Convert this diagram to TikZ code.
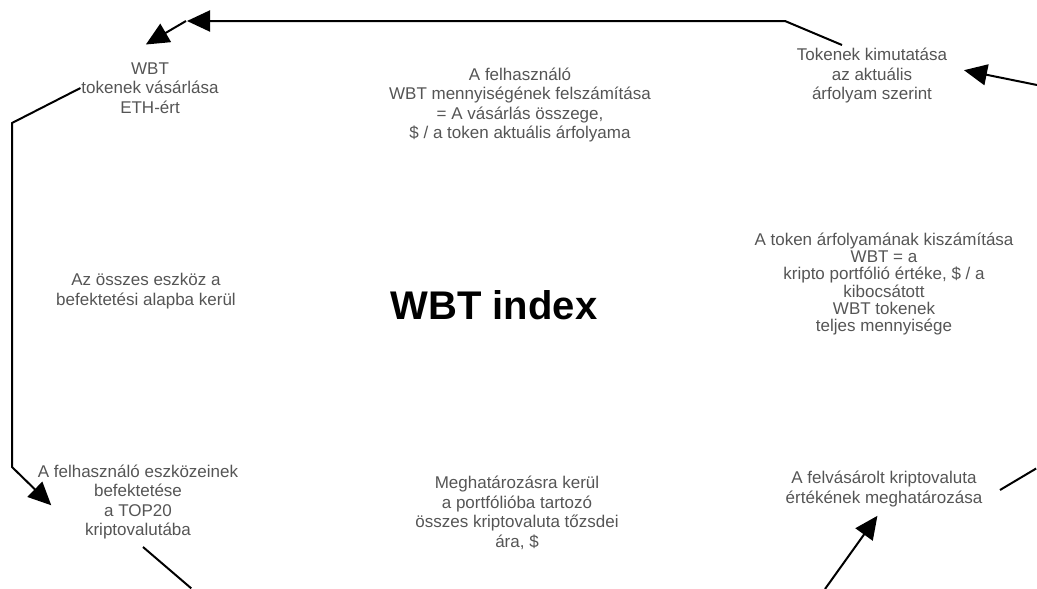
\documentclass[tikz,border=0pt]{standalone}
\usepackage{fontspec}
\setmainfont{Liberation Sans}
\usepackage{xcolor}
\usepackage{tikz}
\usetikzlibrary{arrows.meta, positioning}
\definecolor{txtgray}{HTML}{555555}

\begin{document}
\begin{tikzpicture}[x=1pt,y=-1pt,shorten >=1pt,line width=2pt,>={Triangle[length=23pt,width=21pt]}]
			\tikzstyle{every node}=[align=center,text=txtgray,inner sep=0pt,font=\fontsize{17}{19.5}\selectfont]
			\useasboundingbox (0,0) rectangle (1037,589);
			
			\node (s_buy) at (150,88) {WBT\\tokenek vásárlása\\ETH-ért};
			\node (s_calc) at (520,105) {A felhasználó\\WBT mennyiségének felszámítása\\= A vásárlás összege,\\\$ / a token aktuális árfolyama};
			\node (s_show) at (872,76) {Tokenek kimutatása\\az aktuális\\árfolyam szerint};
			\node[font=\fontsize{17}{17.2}\selectfont] (s_price) at (884,284) {A token árfolyamának kiszámítása\\WBT = a\\kripto portfólió értéke, \$ / a\\kibocsátott\\WBT tokenek\\teljes mennyisége};
			\node (s_fund) at (146,291) {Az összes eszköz a\\befektetési alapba kerül};
			\node[text=black,font=\fontsize{40}{44}\selectfont\bfseries] (s_idx) at (494,305) {WBT index};
			\node (s_invest) at (138,502) {A felhasználó eszközeinek\\befektetése\\a TOP20\\kriptovalutába};
			\node (s_quote) at (517,513) {Meghatározásra kerül\\a portfólióba tartozó\\összes kriptovaluta tőzsdei\\ára, \$};
			\node (s_value) at (884,489) {A felvásárolt kriptovaluta\\értékének meghatározása};
			
			\coordinate (c_show_out) at (842,45);
			\coordinate (c_top_bend) at (186,21);
			\coordinate (c_buy_in) at (145,45);
			\coordinate (c_edge_r) at (1037,85);
			\coordinate (c_show_in) at (963,70);
			\coordinate (c_invest_in) at (52,506);
			\coordinate (c_invest_out) at (143,547);
			\coordinate (c_edge_bl) at (192,589);
			\coordinate (c_edge_br) at (825,589);
			\coordinate (c_value_in) at (878,515);
			\coordinate (c_value_out) at (1000,490);
			\coordinate (c_edge_r2) at (1037,468);
			
			\draw[->] (c_show_out) -- (785,21) -- (c_top_bend);
			\draw[->] (c_top_bend) -- (c_buy_in);
			\draw[->] (c_edge_r) -- (c_show_in);
			\draw[->] (s_buy.west) -- (12,123) -- (12,467) -- (c_invest_in);
			\draw (c_invest_out) -- (c_edge_bl);
			\draw[->] (c_edge_br) -- (c_value_in);
			\draw (c_value_out) -- (c_edge_r2);
		\end{tikzpicture}
\end{document}
